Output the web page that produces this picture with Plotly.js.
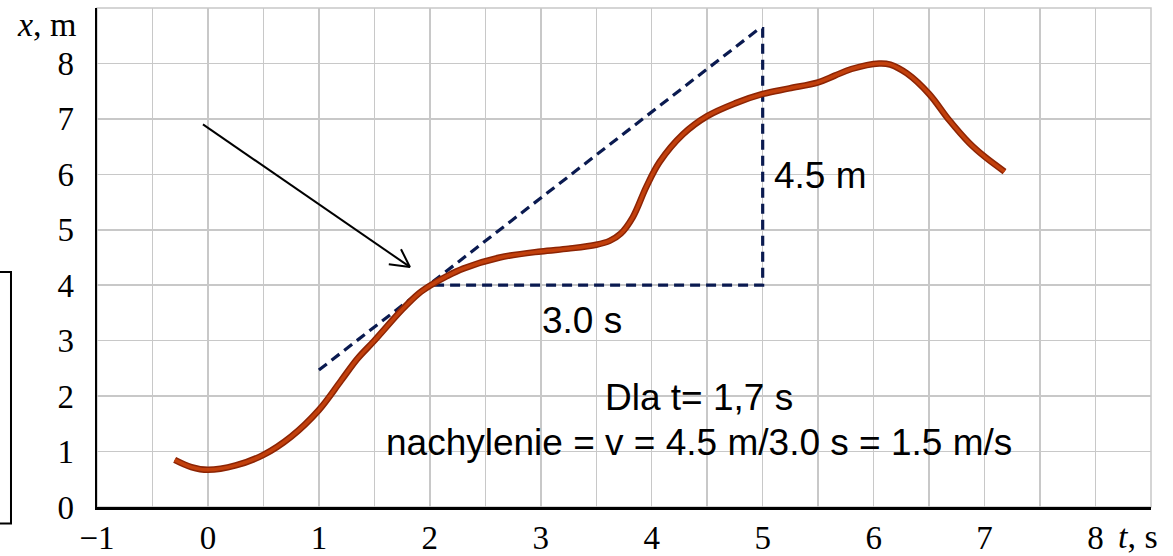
<!DOCTYPE html>
<html>
<head>
<meta charset="utf-8">
<script src="https://cdn.plot.ly/plotly-3.0.1.min.js"></script>
<style>html,body{margin:0;padding:0;background:#fff;}#chart{width:1173px;height:556px;}</style>
</head>
<body>
<div id="chart"></div>
<script>
// position-time curve (t in s, x in m)
const tCurve = [-0.30, -0.15, 0.00, 0.25, 0.50, 0.75, 1.00, 1.20, 1.35, 1.50, 1.75, 1.90, 2.00, 2.15, 2.30, 2.63, 3.00, 3.25, 3.50, 3.62, 3.72, 3.83, 3.95, 4.07, 4.28, 4.50, 4.75, 5.00, 5.24, 5.50, 5.65, 5.80, 6.05, 6.15, 6.30, 6.50, 6.68, 6.86, 7.00, 7.18];
const xCurve = [0.85, 0.72, 0.67, 0.75, 0.94, 1.27, 1.75, 2.28, 2.68, 3.00, 3.56, 3.85, 3.99, 4.16, 4.30, 4.50, 4.61, 4.66, 4.73, 4.80, 4.93, 5.23, 5.77, 6.22, 6.72, 7.05, 7.28, 7.45, 7.55, 7.66, 7.78, 7.90, 8.00, 7.98, 7.82, 7.45, 6.98, 6.57, 6.32, 6.05];

// tangent line and slope triangle
const tTangent = [1.0, 4.97, 5.0, 5.0, 2.0];
const xTangent = [2.47, 8.63, 8.63, 4.0, 4.0];

// pointer arrow (shaft, then head)
const tArrow = [-0.045, 1.82, null, 1.63, 1.82, 1.74];
const xArrow = [6.90, 4.33, null, 4.38, 4.33, 4.65];

// axis ticks
const xTicks = [-1, 0, 1, 2, 3, 4, 5, 6, 7, 8];
const xTickText = ['\u22121', '0', '1', '2', '3', '4', '5', '6', '7', '8'];
const yTicks = [0, 1, 2, 3, 4, 5, 6, 7, 8];
const yTickText = ['0', '1', '2', '3', '4', '5', '6', '7', '8'];

// labels
const labelTexts = ['4.5 m', '3.0 s', 'Dla t= 1,7 s', 'nachylenie = v = 4.5 m/3.0 s = 1.5 m/s'];
const labelT = [5.08, 3.37, 4.43, 4.43];
const labelX = [5.98, 3.37, 1.98, 1.17];
const labelAnchor = ['left', 'center', 'center', 'center'];

const sans = 'Liberation Sans, Arial, sans-serif';
const serif = 'Liberation Serif, DejaVu Serif, serif';

const traces = [
  {x: tTangent, y: xTangent, mode: 'lines', line: {color: '#0a1a50', width: 3.2, dash: '10px,6px'}, hoverinfo: 'skip'},
  {x: tCurve, y: xCurve, mode: 'lines', line: {color: '#8c2404', width: 6.5, shape: 'spline', smoothing: 1}, hoverinfo: 'skip'},
  {x: tCurve, y: xCurve, mode: 'lines', line: {color: '#c2400c', width: 3.5, shape: 'spline', smoothing: 1}, hoverinfo: 'skip'},
  {x: tArrow, y: xArrow, mode: 'lines', line: {color: '#000', width: 2}, hoverinfo: 'skip', connectgaps: false}
];

const annotations = labelTexts.map((s, i) => ({
  x: labelT[i], y: labelX[i], xref: 'x', yref: 'y', text: s, showarrow: false,
  xanchor: labelAnchor[i], yanchor: 'middle', font: {family: sans, size: 37, color: '#000'}
}));
annotations.push({x: -0.047, y: 0.967, xref: 'paper', yref: 'paper', text: '<i>x</i>, m', showarrow: false,
  xanchor: 'center', yanchor: 'middle', font: {family: serif, size: 34, color: '#000'}});
annotations.push({x: 8.38, y: -0.059, xref: 'x', yref: 'paper', text: '<i>t</i>, s', showarrow: false,
  xanchor: 'center', yanchor: 'middle', font: {family: serif, size: 34, color: '#000'}});

const layout = {
  width: 1173, height: 556,
  margin: {l: 97, r: 22, t: 7.5, b: 48.5},
  paper_bgcolor: '#fff', plot_bgcolor: '#fff',
  showlegend: false,
  xaxis: {
    range: [-1, 8.5], tickvals: xTicks, ticktext: xTickText, ticks: '',
    showgrid: true, gridcolor: '#c8c8c8', gridwidth: 1.5,
    minor: {dtick: 0.5, tick0: 0, showgrid: true, gridcolor: '#c8c8c8', gridwidth: 1.5},
    zeroline: false, showline: true, linecolor: '#000', linewidth: 2.5,
    tickfont: {family: serif, size: 33, color: '#000'}, ticklabelstandoff: 0, fixedrange: true
  },
  yaxis: {
    range: [0, 9], tickvals: yTicks, ticktext: yTickText, ticks: '',
    showgrid: true, gridcolor: '#c8c8c8', gridwidth: 1.5,
    zeroline: false, showline: true, linecolor: '#000', linewidth: 2.5,
    tickfont: {family: serif, size: 33, color: '#000'}, ticklabelstandoff: 14, fixedrange: true
  },
  shapes: [
    {type: 'rect', xref: 'paper', yref: 'paper', x0: 0, x1: 1, y0: 0, y1: 1, line: {color: '#c8c8c8', width: 1.5}, layer: 'below'},
    {type: 'rect', xref: 'paper', yref: 'paper', x0: -0.2, x1: -0.0816, y0: -0.033, y1: 0.471, line: {color: '#000', width: 2}, fillcolor: 'rgba(0,0,0,0)'}
  ],
  annotations: annotations
};

Plotly.newPlot('chart', traces, layout, {displayModeBar: false, staticPlot: true});
</script>
</body>
</html>
